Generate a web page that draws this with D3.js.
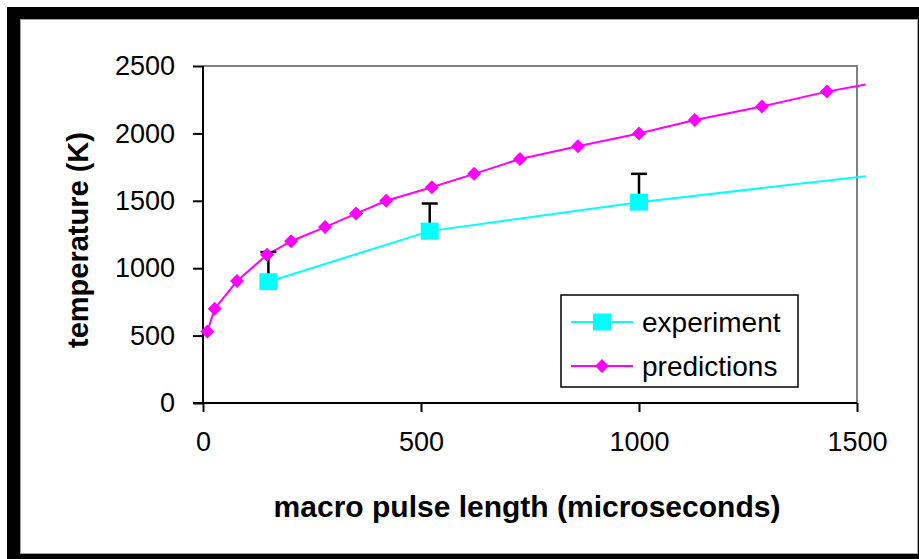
<!DOCTYPE html>
<html>
<head>
<meta charset="utf-8">
<script src="https://cdn.jsdelivr.net/npm/d3@7"></script>
<style>
  body { margin: 0; background: #fff; }
  svg { display: block; font-family: "Liberation Sans", Arial, sans-serif; }
</style>
</head>
<body>
<svg id="chart" width="919" height="559"></svg>
<script>
// predictions (magenta diamonds)
var predX = [10, 27, 78, 147, 202, 280, 351, 420, 525, 622, 727, 860, 1000, 1128, 1282, 1431];
var predY = [530, 700, 905, 1100, 1200, 1305, 1405, 1500, 1600, 1700, 1810, 1905, 2000, 2100, 2200, 2310];
// line continues to the right edge without a marker
var predEnd = [1520, 2362];

// experiment (cyan squares) with upper error bars
var expX = [150, 520, 1000];
var expY = [900, 1275, 1490];
var expUpper = [1120, 1480, 1700];
var expEnd = [1520, 1682];

var xTicks = [0, 500, 1000, 1500];
var yTicks = [0, 500, 1000, 1500, 2000, 2500];

var seriesNames = ['experiment', 'predictions'];

const svg = d3.select('#chart');

// frame
svg.append('rect').attr('x', 7).attr('y', 7).attr('width', 912).attr('height', 552).attr('fill', '#000');
svg.append('rect').attr('x', 20.5).attr('y', 19.5).attr('width', 897).attr('height', 534)
    .attr('fill', '#fff').attr('stroke', '#a0a0a0').attr('stroke-width', 1);

const x = d3.scaleLinear().domain([0, 1500]).range([203, 857]);
const y = d3.scaleLinear().domain([0, 2500]).range([403, 66]);

// plot border (top and right in gray)
svg.append('path')
    .attr('d', `M${x(0)},${y(2500)}H${x(1500)}V${y(0)}`)
    .attr('fill', 'none').attr('stroke', '#808080').attr('stroke-width', 2);

// axes
const fmt = d3.format('d');
const yAxis = svg.append('g')
    .attr('transform', `translate(${x(0)},0)`)
    .call(d3.axisLeft(y).tickValues(yTicks).tickFormat(fmt).tickSize(10).tickPadding(18).tickSizeOuter(0));
const xAxis = svg.append('g')
    .attr('transform', `translate(0,${y(0)})`)
    .call(d3.axisBottom(x).tickValues(xTicks).tickFormat(fmt).tickSize(9).tickPadding(20).tickSizeOuter(0));

[xAxis, yAxis].forEach(function (g) {
    g.selectAll('path, line').attr('stroke', '#000').attr('stroke-width', 2);
    g.selectAll('text').attr('font-size', 27).attr('fill', '#000')
        .attr('font-family', '"Liberation Sans", Arial, sans-serif');
});
yAxis.select('.domain').attr('d', `M0,${y(0)}V${y(2500)}`);
xAxis.select('.domain').attr('d', `M${x(0) - 10},0H${x(1500)}`);

// axis titles
svg.append('text')
    .attr('transform', `translate(88,240) rotate(-90)`)
    .attr('text-anchor', 'middle')
    .attr('font-size', 29).attr('font-weight', 'bold')
    .text('temperature (K)');
svg.append('text')
    .attr('x', 527).attr('y', 517)
    .attr('text-anchor', 'middle')
    .attr('font-size', 30).attr('font-weight', 'bold')
    .text('macro pulse length (microseconds)');

// predictions line
const predPts = predX.map((d, i) => [d, predY[i]]).concat([predEnd]);
const line = d3.line().x(d => x(d[0])).y(d => y(d[1]));
svg.append('path').datum(predPts)
    .attr('d', line).attr('fill', 'none').attr('stroke', '#ff00ff').attr('stroke-width', 2);

// experiment line
const expPts = expX.map((d, i) => [d, expY[i]]).concat([expEnd]);
svg.append('path').datum(expPts)
    .attr('d', line).attr('fill', 'none').attr('stroke', '#00ffff').attr('stroke-width', 2);

// error bars
const err = svg.append('g').attr('stroke', '#000').attr('stroke-width', 2.5);
expX.forEach(function (d, i) {
    err.append('line').attr('x1', x(d)).attr('x2', x(d)).attr('y1', y(expY[i])).attr('y2', y(expUpper[i]));
    err.append('line').attr('x1', x(d) - 8).attr('x2', x(d) + 8).attr('y1', y(expUpper[i])).attr('y2', y(expUpper[i]));
});

// diamond markers
const diamond = 'M0,-7L7,0L0,7L-7,0Z';
svg.append('g').selectAll('path')
    .data(predX)
    .enter().append('path')
    .attr('d', diamond)
    .attr('transform', (d, i) => `translate(${x(d)},${y(predY[i])})`)
    .attr('fill', '#ff00ff');

// square markers
svg.append('g').selectAll('rect')
    .data(expX)
    .enter().append('rect')
    .attr('x', d => x(d) - 9)
    .attr('y', (d, i) => y(expY[i]) - 8.5)
    .attr('width', 18).attr('height', 17)
    .attr('fill', '#00ffff');

// legend
const lg = svg.append('g');
lg.append('rect').attr('x', 561).attr('y', 295).attr('width', 237).attr('height', 92)
    .attr('fill', '#fff').attr('stroke', '#000').attr('stroke-width', 1.5);
const rows = [322, 366];
const colors = ['#00ffff', '#ff00ff'];
seriesNames.forEach(function (name, i) {
    lg.append('line').attr('x1', 571).attr('x2', 633).attr('y1', rows[i]).attr('y2', rows[i])
        .attr('stroke', colors[i]).attr('stroke-width', 2);
    if (i === 0) {
        lg.append('rect').attr('x', 593).attr('y', rows[i] - 8.5).attr('width', 18).attr('height', 17)
            .attr('fill', colors[i]);
    } else {
        lg.append('path').attr('d', diamond).attr('transform', `translate(602,${rows[i]})`)
            .attr('fill', colors[i]);
    }
    lg.append('text').attr('x', 642).attr('y', rows[i]).attr('dy', '0.35em')
        .attr('font-size', 28).text(name);
});
</script>
</body>
</html>
